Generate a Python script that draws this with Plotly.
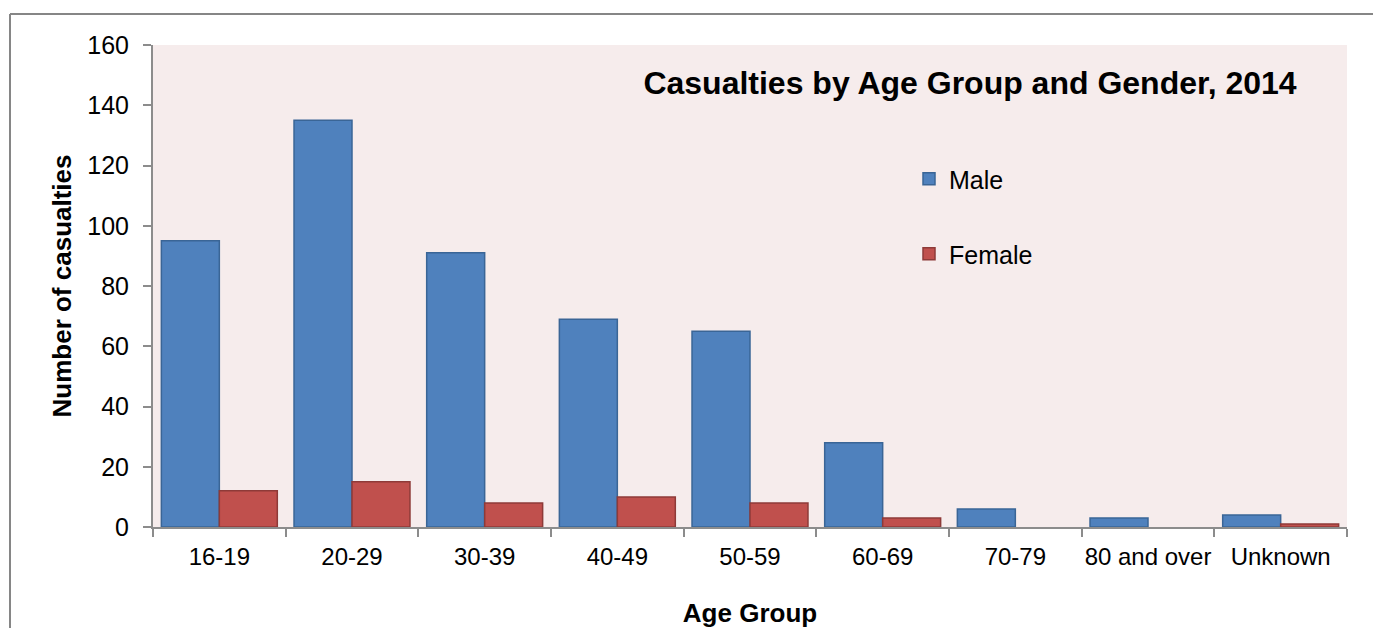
import plotly.graph_objects as go

categories = ["16-19", "20-29", "30-39", "40-49", "50-59", "60-69", "70-79", "80 and over", "Unknown"]
male = [95, 135, 91, 69, 65, 28, 6, 3, 4]
female = [12, 15, 8, 10, 8, 3, 0, 0, 1]
y_ticks = [0, 20, 40, 60, 80, 100, 120, 140, 160]

# page body has an 8px margin; work in screen pixels and shift by OFF
OFF = 8
W, H = 1381 - OFF, 628 - OFF
L, R, T, B = 153 - OFF, 1381 - 1347, 45 - OFF, 628 - 527
pw = W - L - R
ph = H - T - B

FONT = "Liberation Sans, Arial, sans-serif"
AXIS_GRAY = "#8C8C8C"


def outline_widths(values, w=1.5):
    # no outline on empty (zero) bars, as in the reference
    return [w if v else 0 for v in values]


fig = go.Figure()
fig.add_trace(go.Bar(
    x=categories, y=male, name="Male",
    marker=dict(color="#4F81BD", line=dict(color="#3A6596", width=outline_widths(male))),
    legend="legend",
))
fig.add_trace(go.Bar(
    x=categories, y=female, name="Female",
    marker=dict(color="#C0504D", line=dict(color="#8E3A38", width=outline_widths(female))),
    legend="legend2",
))


def sy(y):  # screen y -> paper y
    return 1 - (y - 45) / ph


def sx(x):  # screen x -> paper x
    return (x - 153) / pw


fig.update_layout(
    width=W, height=H,
    margin=dict(l=L, r=R, t=T, b=B, autoexpand=False),
    paper_bgcolor="white",
    plot_bgcolor="#F6ECEC",
    barmode="group",
    bargap=0.126,
    bargroupgap=0,
    font=dict(family=FONT, color="black", size=24),
    title=dict(
        text="<b>Casualties by Age Group and Gender, 2014</b>",
        font=dict(family=FONT, size=32, color="black"),
        x=(970 - OFF) / W, xref="container", xanchor="center",
        y=1 - (83 - OFF) / H, yref="container", yanchor="middle",
    ),
    legend=dict(
        x=sx(929 - 20), xref="paper", xanchor="left",
        y=sy(179), yref="paper", yanchor="middle",
        bgcolor="rgba(0,0,0,0)",
        font=dict(family=FONT, size=25, color="black"),
    ),
    legend2=dict(
        x=sx(929 - 20), xref="paper", xanchor="left",
        y=sy(254), yref="paper", yanchor="middle",
        bgcolor="rgba(0,0,0,0)",
        font=dict(family=FONT, size=25, color="black"),
    ),
    xaxis=dict(
        type="category",
        showline=True, linecolor=AXIS_GRAY, linewidth=2,
        ticks="outside", tickson="boundaries", ticklen=8, tickcolor=AXIS_GRAY, tickwidth=2,
        showgrid=False, zeroline=False,
        tickangle=0,
        tickfont=dict(family=FONT, size=24, color="black"),
        ticklabelstandoff=7,
        title=dict(text="<b>Age Group</b>", font=dict(family=FONT, size=26, color="black"), standoff=35),
        automargin=False,
    ),
    yaxis=dict(
        range=[0, 160], tickvals=y_ticks,
        showline=True, linecolor=AXIS_GRAY, linewidth=2,
        ticks="outside", ticklen=8, tickcolor=AXIS_GRAY, tickwidth=2,
        showgrid=False, zeroline=False,
        tickfont=dict(family=FONT, size=25, color="black"),
        ticklabelstandoff=9,
        title=dict(text="<b>Number of casualties</b>", font=dict(family=FONT, size=26, color="black"), standoff=8),
        automargin=False,
    ),
    showlegend=True,
)

# outer chart border (top and left edges visible in the frame)
bx = sx(10)
by = sy(14)
fig.add_shape(type="line", xref="paper", yref="paper", x0=bx, x1=sx(1395), y0=by, y1=by,
              line=dict(color="#868686", width=2), layer="below")
fig.add_shape(type="line", xref="paper", yref="paper", x0=bx, x1=bx, y0=by, y1=sy(640),
              line=dict(color="#868686", width=2), layer="below")

fig.write_html("out.html")
